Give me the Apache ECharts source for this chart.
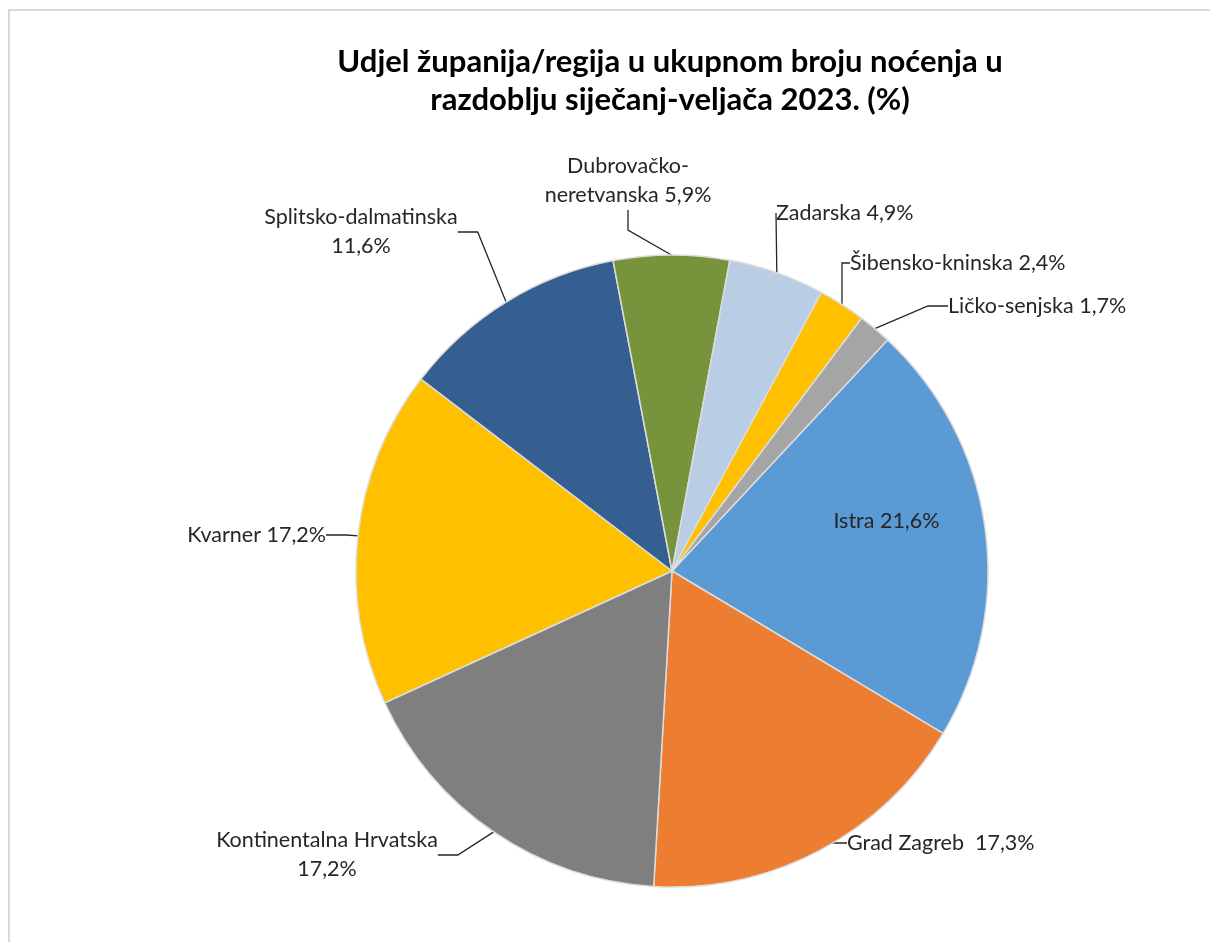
<!doctype html>
<html>
<head>
<meta charset="utf-8">
<title>Noćenja</title>
<script src="https://cdn.jsdelivr.net/npm/echarts@6/dist/echarts.min.js"></script>
<style>
  html, body { margin: 0; padding: 0; background: #fff; }
  #frame { position: absolute; left: 8px; top: 9px; width: 1300px; height: 1000px;
           border-left: 2px solid #d9d9d9; border-top: 2px solid #d9d9d9; pointer-events: none; }
  #chart { position: absolute; left: 0; top: 0; width: 1210px; height: 942px; }
</style>
</head>
<body>
<div id="chart"></div>
<div id="frame"></div>
<script type="text/javascript">
// podaci
var regije = ['Istra', 'Grad Zagreb', 'Kontinentalna Hrvatska', 'Kvarner', 'Splitsko-dalmatinska',
              'Dubrovačko-neretvanska', 'Zadarska', 'Šibensko-kninska', 'Ličko-senjska'];
var udjeli = [21.6, 17.3, 17.2, 17.2, 11.6, 5.9, 4.9, 2.4, 1.7];
var boje = ['#5b9bd5', '#ed7d31', '#7f7f7f', '#ffc000', '#355e91', '#77933c', '#b9cde5', '#ffc000', '#a5a5a5'];

// smjestaj oznaka kao u Excelu: [x, y, poravnanje]
var oznake = [
    null,
    [847, 843, 'left'],
    [327, 855, 'center'],
    [326, 535, 'right'],
    [361, 232, 'center'],
    [628, 181, 'center'],
    [776, 213, 'left'],
    [850, 263, 'left'],
    [948, 306, 'left']
];

function fmt(p) {
    var v = p.value.toFixed(1).replace('.', ',') + '%';
    if (p.name === 'Dubrovačko-neretvanska') return 'Dubrovačko-\nneretvanska ' + v;
    if (p.name === 'Splitsko-dalmatinska' || p.name === 'Kontinentalna Hrvatska') return p.name + '\n' + v;
    if (p.name === 'Grad Zagreb') return p.name + '  ' + v;
    return p.name + ' ' + v;
}

var myChart = echarts.init(document.getElementById('chart'));
var option = {
    animation: false,
    title: {
        text: 'Udjel županija/regija u ukupnom broju noćenja u\nrazdoblju siječanj-veljača 2023. (%)',
        left: 665,
        top: 38,
        textAlign: 'center',
        textStyle: { fontFamily: 'Lato', fontWeight: 'bold', fontSize: 31, lineHeight: 38, color: '#000' }
    },
    series: [{
        type: 'pie',
        center: [672, 571],
        radius: [0, 316],
        startAngle: 47,
        clockwise: true,
        avoidLabelOverlap: false,
        itemStyle: { borderColor: '#dcdcdc', borderWidth: 1.5 },
        label: {
            formatter: fmt,
            fontFamily: 'Lato',
            fontSize: 21.5,
            lineHeight: 29,
            color: '#262626',
            align: 'center'
        },
        labelLine: { length: 20, length2: 20, lineStyle: { color: '#262626', width: 1.3 } },
        labelLayout: function (params) {
            var o = oznake[params.dataIndex];
            if (!o) return {};
            return { x: o[0], y: o[1], align: o[2], verticalAlign: 'middle' };
        },
        data: regije.map(function (r, i) {
            var d = { name: r, value: udjeli[i], itemStyle: { color: boje[i] } };
            if (i === 0) d.label = { position: 'inside', offset: [55, -27] };
            return d;
        })
    }]
};
myChart.setOption(option);
</script>
</body>
</html>
